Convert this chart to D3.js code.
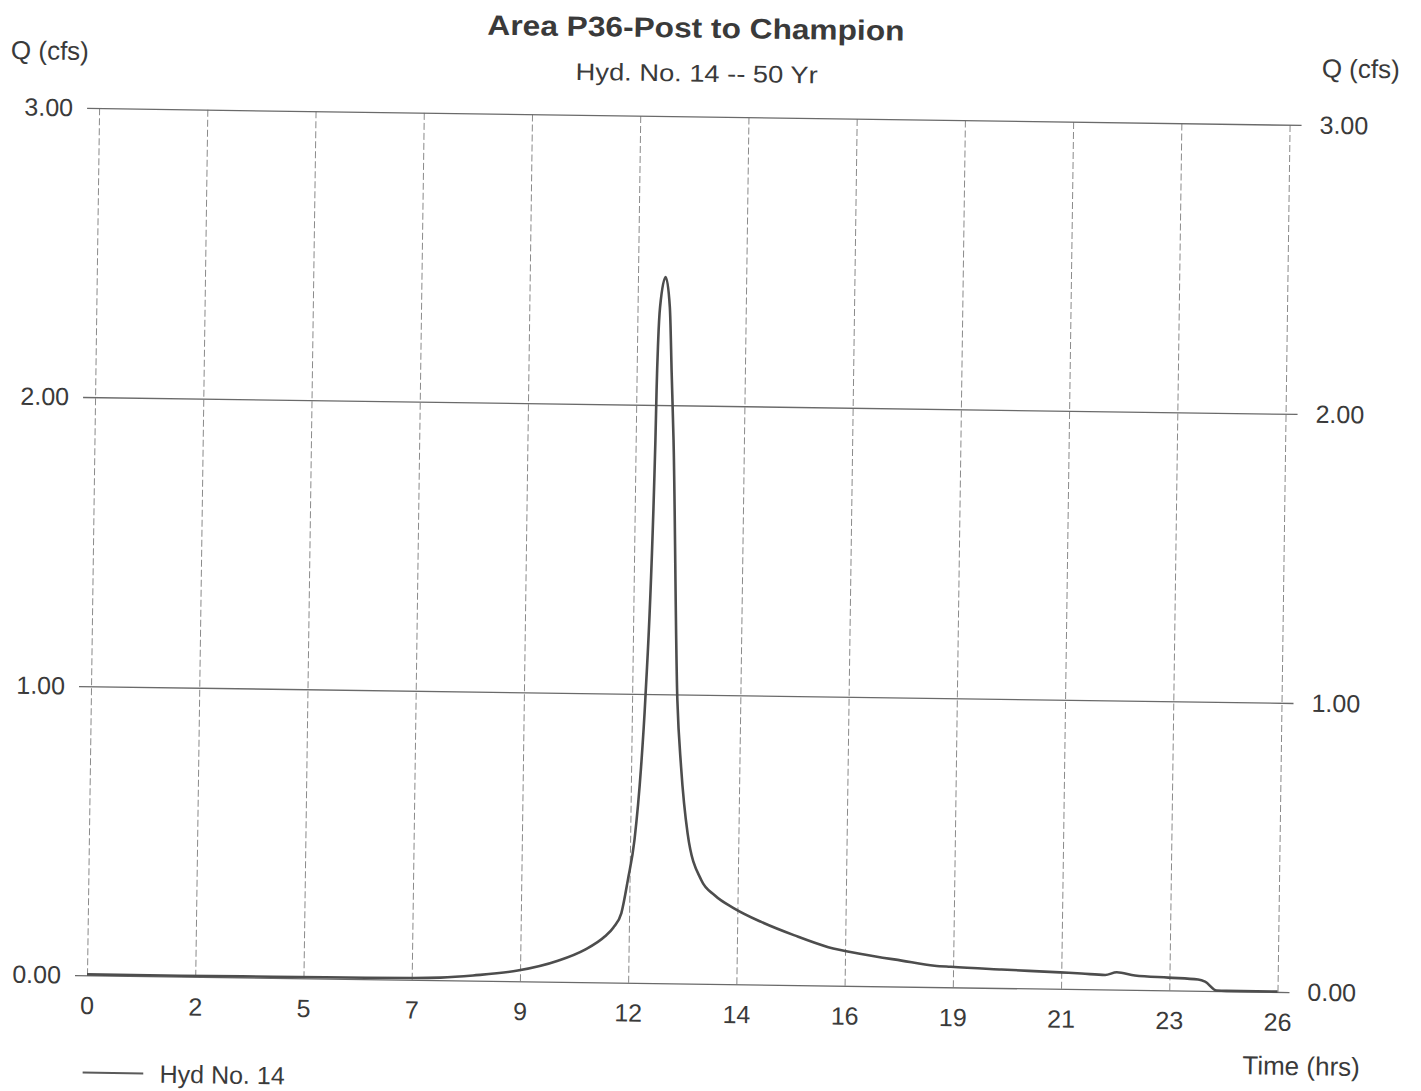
<!DOCTYPE html>
<html>
<head>
<meta charset="utf-8">
<script src="https://cdn.jsdelivr.net/npm/d3@7/dist/d3.min.js"></script>
<style>
  html, body { margin: 0; padding: 0; background: #fff; }
  svg { display: block; }
  text { font-family: "Liberation Sans", Arial, sans-serif; fill: #3a3a3a; }
</style>
</head>
<body>
<svg id="chart" width="1421" height="1091"></svg>
<script>
// Hydrograph ordinates: time (hrs) and discharge (cfs)
const timeHrs = [0, 2, 4, 6, 7, 7.6, 8.3, 9.26, 10.12, 10.69, 11.12, 11.3, 11.47, 11.6, 11.73,
  11.85, 11.92, 12.06, 12.07, 12.09, 12.12, 12.23, 12.33, 12.39, 12.45, 12.61, 12.71, 12.87,
  13.18, 13.47, 13.9, 14.48, 15.2, 15.93, 16.64, 17.51, 18.22, 18.57, 19.66, 20.92, 21.38,
  21.89, 22.14, 22.53, 23.25, 23.89, 24.04, 24.29, 24.5, 25.6];
const flowCfs = [0.003, 0.003, 0.004, 0.005, 0.006, 0.009, 0.018, 0.037, 0.073, 0.112, 0.159,
  0.19, 0.241, 0.356, 0.495, 0.748, 0.979, 1.878, 2.051, 2.224, 2.339, 2.443, 2.339, 2.109,
  1.878, 0.98, 0.749, 0.52, 0.358, 0.307, 0.262, 0.217, 0.172, 0.133, 0.111, 0.09, 0.074,
  0.071, 0.064, 0.057, 0.054, 0.05, 0.06, 0.05, 0.044, 0.039, 0.032, 0.002, 0.001, 0.001];

// Axis ticks
const timeMax = 25.6;
const xTickLabels = ["0", "2", "5", "7", "9", "12", "14", "16", "19", "21", "23", "26"];
const yTickValues = [0, 1, 2, 3];

// Text
const titleText = "Area P36-Post to Champion";
const subtitleText = "Hyd. No. 14 -- 50 Yr";
const yAxisTitle = "Q (cfs)";
const xAxisTitle = "Time (hrs)";
const legendLabel = "Hyd No. 14";

const data = timeHrs.map((t, i) => ({ t, q: flowCfs[i] }));

const plot = { left: 93, right: 1283.6, top: 116.4, bottom: 983.6 };
const W = plot.right - plot.left;
const H = plot.bottom - plot.top;

const svg = d3.select("#chart");
const g = svg.append("g").attr("transform", "rotate(0.8, 688, 550)");

const x = d3.scaleLinear().domain([0, timeMax]).range([plot.left, plot.right]);
const y = d3.scaleLinear().domain([0, 3]).range([plot.bottom, plot.top]);

const xTickValues = xTickLabels.map((_, i) => i * timeMax / (xTickLabels.length - 1));

// Vertical grid + time labels
const xAxis = g.append("g")
  .attr("transform", `translate(0,${plot.bottom})`)
  .call(d3.axisBottom(x)
    .tickValues(xTickValues)
    .tickSize(-H)
    .tickPadding(21)
    .tickFormat((d, i) => xTickLabels[i]));
xAxis.select(".domain").remove();
xAxis.selectAll("line")
  .attr("stroke", "#8a8a8a")
  .attr("stroke-width", 1)
  .attr("stroke-dasharray", "7,3");
xAxis.selectAll("text").attr("font-size", 25).attr("fill", "#3a3a3a");

// Horizontal grid + left labels
const yLeft = g.append("g")
  .attr("transform", `translate(${plot.left - 12},0)`)
  .call(d3.axisLeft(y)
    .tickValues(yTickValues)
    .tickSize(-(W + 24))
    .tickPadding(14)
    .tickFormat(d3.format(".2f")));
yLeft.select(".domain").remove();
yLeft.selectAll("line").attr("stroke", "#6a6a6a").attr("stroke-width", 1.3);
yLeft.selectAll("text").attr("font-size", 25).attr("fill", "#3a3a3a");

// Right labels
const yRight = g.append("g")
  .attr("transform", `translate(${plot.right},0)`)
  .call(d3.axisRight(y)
    .tickValues(yTickValues)
    .tickSize(0)
    .tickPadding(30)
    .tickFormat(d3.format(".2f")));
yRight.select(".domain").remove();
yRight.selectAll("text").attr("font-size", 25).attr("fill", "#3a3a3a");

// Hydrograph
const line = d3.line()
  .x(d => x(d.t))
  .y(d => y(d.q))
  .curve(d3.curveMonotoneX);
g.append("path")
  .datum(data)
  .attr("d", line)
  .attr("fill", "none")
  .attr("stroke", "#4d4d4d")
  .attr("stroke-width", 2.6)
  .attr("stroke-linejoin", "round");

// Titles
g.append("text")
  .attr("x", 688.7).attr("y", 37.5)
  .attr("text-anchor", "middle")
  .attr("font-size", 28).attr("font-weight", "bold")
  .attr("textLength", 417).attr("lengthAdjust", "spacingAndGlyphs")
  .text(titleText);
g.append("text")
  .attr("x", 690).attr("y", 81.5)
  .attr("text-anchor", "middle")
  .attr("font-size", 24)
  .attr("textLength", 242).attr("lengthAdjust", "spacingAndGlyphs")
  .text(subtitleText);

// Axis titles
g.append("text")
  .attr("x", 4).attr("y", 68.5)
  .attr("font-size", 26)
  .text(yAxisTitle);
g.append("text")
  .attr("x", 1315).attr("y", 68.5)
  .attr("font-size", 26)
  .text(yAxisTitle);
g.append("text")
  .attr("x", 1367).attr("y", 1066.5)
  .attr("text-anchor", "end")
  .attr("font-size", 26)
  .text(xAxisTitle);

// Legend
g.append("line")
  .attr("x1", 90).attr("x2", 150.6)
  .attr("y1", 1081).attr("y2", 1081)
  .attr("stroke", "#5a5a5a").attr("stroke-width", 2);
g.append("text")
  .attr("x", 167).attr("y", 1090)
  .attr("font-size", 25)
  .text(legendLabel);
</script>
</body>
</html>
